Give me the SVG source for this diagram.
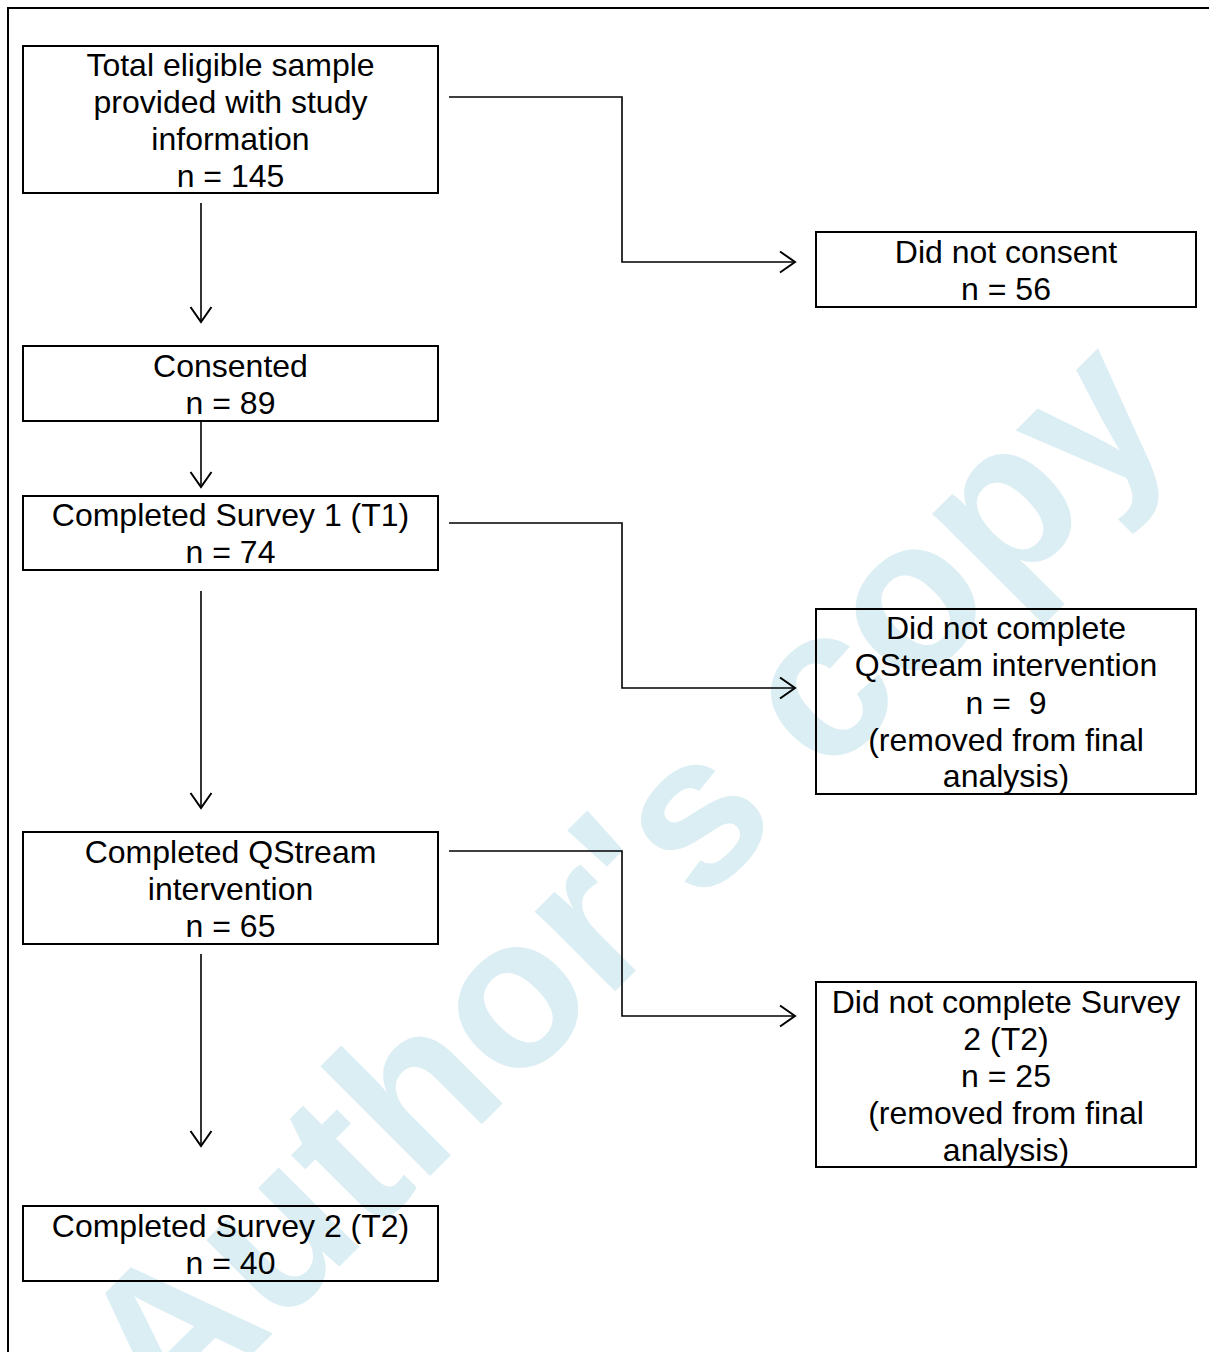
<svg xmlns="http://www.w3.org/2000/svg" width="1209" height="1352" viewBox="0 0 1209 1352">
<style>
.box{fill:none;stroke:#000;stroke-width:2}
.t{font-family:"Liberation Sans",Arial,sans-serif;font-size:32px;fill:#000;text-anchor:middle;white-space:pre}
.c{fill:none;stroke:#000;stroke-width:1.6}
.wm{font-family:"Liberation Sans",Arial,sans-serif;font-size:214px;font-weight:bold;fill:#dbeef4;text-anchor:middle}
</style>
<defs>
<marker id="ah" markerUnits="userSpaceOnUse" markerWidth="20" markerHeight="26" refX="17" refY="12" orient="auto">
<path d="M2 1.5 L17 12 L2 22.5" fill="none" stroke="#000" stroke-width="2"/>
</marker>
</defs>
<rect x="0" y="0" width="1209" height="1352" fill="#fff"/>
<text class="wm" x="620" y="955" transform="rotate(-45 620 880)">Author's copy</text>
<rect x="8" y="8" width="1300" height="1400" fill="none" stroke="#000" stroke-width="2"/>
<g id="connectors">
<path class="c" d="M449 97 H622 V262 H795" marker-end="url(#ah)"/>
<path class="c" d="M449 523 H622 V688 H795" marker-end="url(#ah)"/>
<path class="c" d="M449 851 H622 V1016 H795" marker-end="url(#ah)"/>
<path class="c" d="M201 203 V322" marker-end="url(#ah)"/>
<path class="c" d="M201 421 V487" marker-end="url(#ah)"/>
<path class="c" d="M201 591 V808" marker-end="url(#ah)"/>
<path class="c" d="M201 954 V1146" marker-end="url(#ah)"/>
</g>
<g id="n1">
<rect class="box" x="23" y="46" width="415" height="147"/>
<text class="t" x="230.5" y="76">Total eligible sample</text>
<text class="t" x="230.5" y="113">provided with study</text>
<text class="t" x="230.5" y="150">information</text>
<text class="t" x="230.5" y="187">n = 145</text>
</g>
<g id="n2">
<rect class="box" x="816" y="232" width="380" height="75"/>
<text class="t" x="1006" y="263">Did not consent</text>
<text class="t" x="1006" y="300">n = 56</text>
</g>
<g id="n3">
<rect class="box" x="23" y="346" width="415" height="75"/>
<text class="t" x="230.5" y="377">Consented</text>
<text class="t" x="230.5" y="414">n = 89</text>
</g>
<g id="n4">
<rect class="box" x="23" y="496" width="415" height="74"/>
<text class="t" x="230.5" y="526">Completed Survey 1 (T1)</text>
<text class="t" x="230.5" y="563">n = 74</text>
</g>
<g id="n5">
<rect class="box" x="816" y="609" width="380" height="185"/>
<text class="t" x="1006" y="639">Did not complete</text>
<text class="t" x="1006" y="676">QStream intervention</text>
<text class="t" x="1006" y="714">n =  9</text>
<text class="t" x="1006" y="751">(removed from final</text>
<text class="t" x="1006" y="787">analysis)</text>
</g>
<g id="n6">
<rect class="box" x="23" y="832" width="415" height="112"/>
<text class="t" x="230.5" y="863">Completed QStream</text>
<text class="t" x="230.5" y="900">intervention</text>
<text class="t" x="230.5" y="937">n = 65</text>
</g>
<g id="n7">
<rect class="box" x="816" y="982" width="380" height="185"/>
<text class="t" x="1006" y="1013">Did not complete Survey</text>
<text class="t" x="1006" y="1050">2 (T2)</text>
<text class="t" x="1006" y="1087">n = 25</text>
<text class="t" x="1006" y="1124">(removed from final</text>
<text class="t" x="1006" y="1161">analysis)</text>
</g>
<g id="n8">
<rect class="box" x="23" y="1206" width="415" height="75"/>
<text class="t" x="230.5" y="1237">Completed Survey 2 (T2)</text>
<text class="t" x="230.5" y="1274">n = 40</text>
</g>
</svg>
